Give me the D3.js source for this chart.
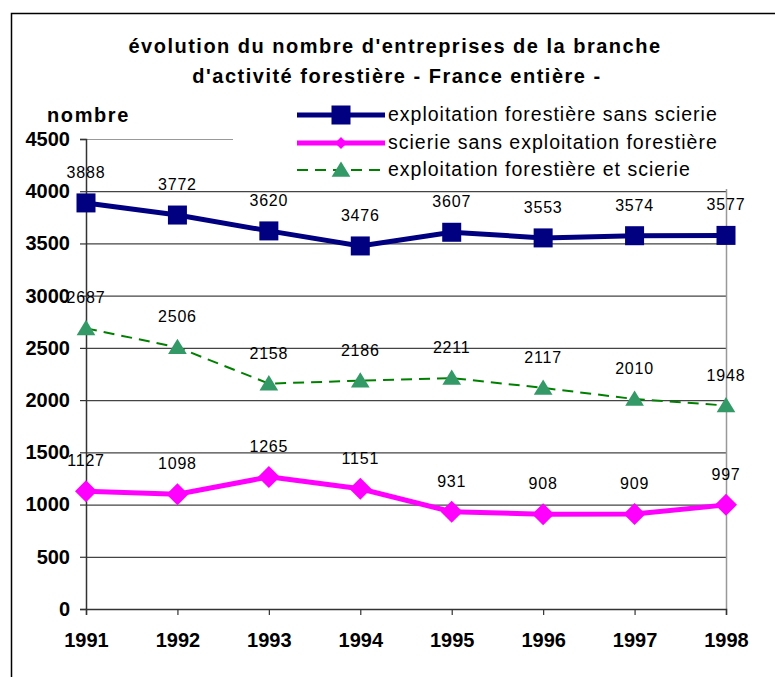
<!DOCTYPE html>
<html>
<head>
<meta charset="utf-8">
<script src="https://cdn.jsdelivr.net/npm/d3@7"></script>
<style>
  body { margin: 0; background: #fff; }
  svg text { font-family: "Liberation Sans", Arial, sans-serif; }
</style>
</head>
<body>
<div id="chart"></div>
<script>
// data
const years = ["1991", "1992", "1993", "1994", "1995", "1996", "1997", "1998"];
const sansScierie = [3888, 3772, 3620, 3476, 3607, 3553, 3574, 3577];
const scierieSeule = [1127, 1098, 1265, 1151, 931, 908, 909, 997];
const lesDeux = [2687, 2506, 2158, 2186, 2211, 2117, 2010, 1948];
const yTicks = [0, 500, 1000, 1500, 2000, 2500, 3000, 3500, 4000, 4500];
const seriesNames = [
    "exploitation forestière sans scierie",
    "scierie sans exploitation forestière",
    "exploitation forestière et scierie"
];

const width = 775;
const height = 677;
const margin = { top: 139, bottom: 68, left: 86, right: 49 };

const svg = d3.select('#chart')
    .append('svg')
    .attr('width', width)
    .attr('height', height);

// outer frame (open on right and bottom, like the cropped source)
svg.append('rect')
    .attr('x', 11.5).attr('y', 13.5)
    .attr('width', width + 20).attr('height', height + 20)
    .attr('fill', 'none')
    .attr('stroke', '#000')
    .attr('stroke-width', 1.5);

const x = d3.scalePoint()
    .domain(years)
    .range([margin.left, width - margin.right]);

const y = d3.scaleLinear()
    .domain([0, 4500])
    .range([height - margin.bottom, margin.top]);

// grid
svg.append('g')
    .selectAll('line')
    .data(yTicks.filter(d => d > 0))
    .join('line')
    .attr('x1', margin.left)
    .attr('x2', width - margin.right)
    .attr('y1', d => y(d) + 0.5)
    .attr('y2', d => y(d) + 0.5)
    .attr('stroke', d => d === 4500 ? '#999' : '#444')
    .attr('stroke-width', 1.2);

// right border of plot area
svg.append('line')
    .attr('x1', width - margin.right + 0.5).attr('x2', width - margin.right + 0.5)
    .attr('y1', y(4500)).attr('y2', y(0))
    .attr('stroke', '#999')
    .attr('stroke-width', 1.5);

// axes
function yAxis(g) {
    g.attr('transform', `translate(${margin.left},0)`)
        .call(d3.axisLeft(y).tickValues(yTicks).tickSize(6).tickPadding(10).tickFormat(d3.format('d')));
    g.select('.domain').attr('stroke', '#333').attr('stroke-width', 1.5);
    g.selectAll('.tick line').attr('stroke', '#333').attr('stroke-width', 1.2);
    g.selectAll('.tick text')
        .attr('font-size', '20px')
        .attr('font-weight', 'bold')
        .attr('fill', '#000')
        .attr('font-family', '"Liberation Sans", Arial, sans-serif');
}
function xAxis(g) {
    g.attr('transform', `translate(0, ${height - margin.bottom})`)
        .call(d3.axisBottom(x).tickSize(6).tickPadding(18));
    g.select('.domain').attr('stroke', '#333').attr('stroke-width', 1.5);
    g.selectAll('.tick line').attr('stroke', '#333').attr('stroke-width', 1.2);
    g.selectAll('.tick text')
        .attr('font-size', '20px')
        .attr('font-weight', 'bold')
        .attr('fill', '#000')
        .attr('font-family', '"Liberation Sans", Arial, sans-serif');
}
svg.append('g').call(yAxis);
svg.append('g').call(xAxis);

const line = d3.line()
    .x((d, i) => x(years[i]))
    .y(d => y(d));

// series styles
const series = [
    { values: sansScierie, color: '#000080', width: 5, dash: null, marker: 'square' },
    { values: scierieSeule, color: '#FF00FF', width: 5, dash: null, marker: 'diamond' },
    { values: lesDeux, color: '#008000', width: 2, dash: '11,7', marker: 'triangle' }
];

function drawMarker(g, type, cx, cy, s) {
    if (type === 'square') {
        g.append('rect')
            .attr('x', cx - s / 2).attr('y', cy - s / 2)
            .attr('width', s).attr('height', s)
            .attr('fill', '#000080');
    } else if (type === 'diamond') {
        g.append('path')
            .attr('d', `M${cx},${cy - s / 2}L${cx + s / 2},${cy}L${cx},${cy + s / 2}L${cx - s / 2},${cy}Z`)
            .attr('fill', '#FF00FF');
    } else {
        g.append('path')
            .attr('d', `M${cx},${cy - s * 0.5}L${cx + s * 0.55},${cy + s * 0.4}L${cx - s * 0.55},${cy + s * 0.4}Z`)
            .attr('fill', '#339966');
    }
}

const markerSize = { square: 19, diamond: 22, triangle: 17 };

series.slice().reverse().forEach(s => {
    svg.append('path')
        .datum(s.values)
        .attr('d', line)
        .attr('fill', 'none')
        .attr('stroke', s.color)
        .attr('stroke-width', s.width)
        .attr('stroke-dasharray', s.dash);
    const mg = svg.append('g');
    s.values.forEach((v, i) => drawMarker(mg, s.marker, x(years[i]), y(v), markerSize[s.marker]));
});

// data labels
series.forEach(s => {
    svg.append('g')
        .selectAll('text')
        .data(s.values)
        .join('text')
        .attr('x', (d, i) => x(years[i]))
        .attr('y', d => y(d) - 25)
        .attr('text-anchor', 'middle')
        .attr('font-size', '16px')
        .attr('letter-spacing', '0.8px')
        .attr('fill', '#000')
        .text(d => d);
});

// legend with white background
const legend = svg.append('g');
legend.append('rect')
    .attr('x', 233).attr('y', 96)
    .attr('width', 560).attr('height', 93)
    .attr('fill', '#fff');

const legendRows = [115, 143, 170];
series.forEach((s, i) => {
    const ly = legendRows[i];
    legend.append('line')
        .attr('x1', 297).attr('x2', 385)
        .attr('y1', ly).attr('y2', ly)
        .attr('stroke', s.color)
        .attr('stroke-width', s.width)
        .attr('stroke-dasharray', s.dash);
    drawMarker(legend, s.marker, 341, ly, s.marker === 'diamond' ? 12 : markerSize[s.marker]);
    legend.append('text')
        .attr('x', 388)
        .attr('y', ly + 6)
        .attr('font-size', '19.5px')
        .attr('letter-spacing', '1px')
        .attr('fill', '#000')
        .text(seriesNames[i]);
});

// titles
svg.append('text')
    .attr('x', 395).attr('y', 53)
    .attr('text-anchor', 'middle')
    .attr('font-size', '20px')
    .attr('font-weight', 'bold')
    .attr('letter-spacing', '1.5px')
    .text("évolution du nombre d'entreprises de la branche");
svg.append('text')
    .attr('x', 397).attr('y', 83)
    .attr('text-anchor', 'middle')
    .attr('font-size', '20px')
    .attr('font-weight', 'bold')
    .attr('letter-spacing', '1.5px')
    .text("d'activité forestière - France entière -");
svg.append('text')
    .attr('x', 47).attr('y', 122)
    .attr('font-size', '20px')
    .attr('font-weight', 'bold')
    .attr('letter-spacing', '1.6px')
    .text("nombre");
</script>
</body>
</html>
